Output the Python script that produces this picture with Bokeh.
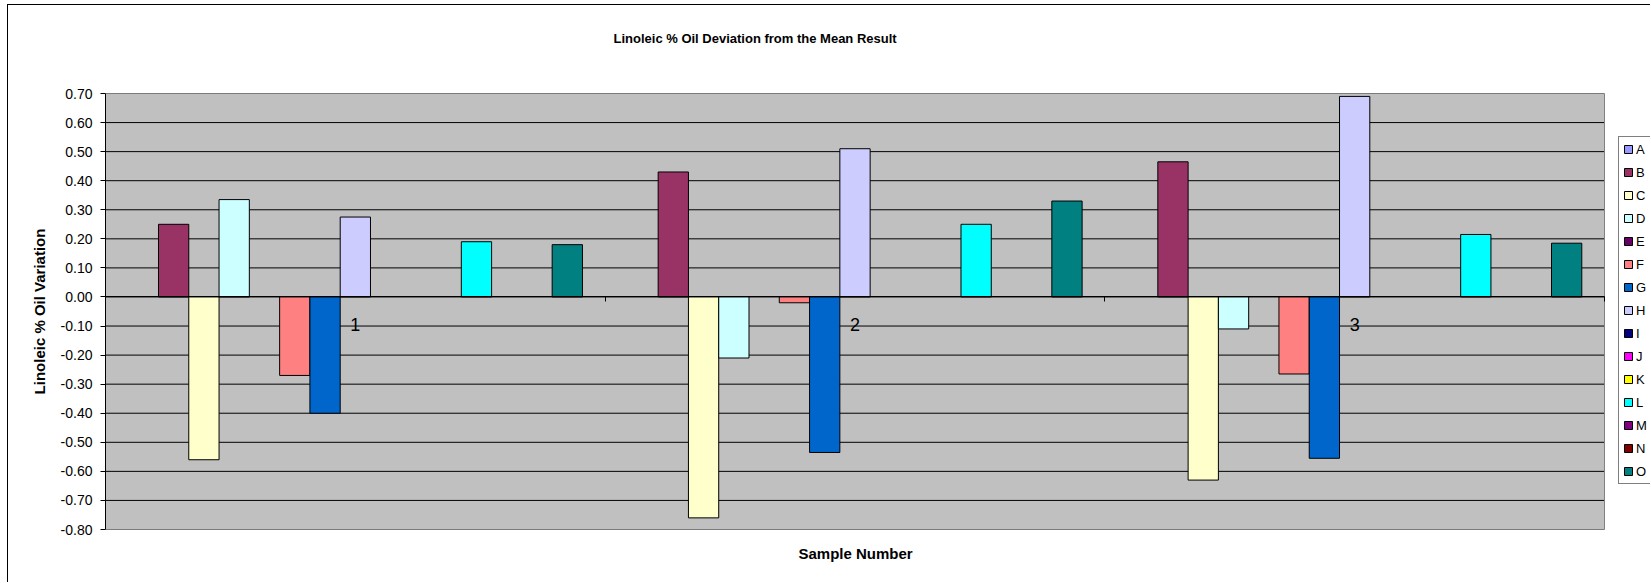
from bokeh.plotting import figure
from bokeh.models import (ColumnDataSource, FixedTicker, LinearAxis, Legend, LegendItem,
                          Range1d, PrintfTickFormatter, Title)
from bokeh.transform import dodge
from bokeh.embed import file_html
from bokeh.resources import INLINE

# ---------------- data ----------------
categories = ["1", "2", "3"]
series_names = ["A", "B", "C", "D", "E", "F", "G", "H", "I", "J", "K", "L", "M", "N", "O"]

A = [None, None, None]
B = [0.25, 0.43, 0.465]
C = [-0.56, -0.76, -0.63]
D = [0.335, -0.21, -0.11]
E = [None, None, None]
F = [-0.27, -0.02, -0.265]
G = [-0.40, -0.535, -0.555]
H = [0.275, 0.51, 0.69]
I = [None, None, None]
J = [None, None, None]
K = [None, None, None]
L = [0.19, 0.25, 0.215]
M = [None, None, None]
N = [None, None, None]
O = [0.18, 0.33, 0.185]

series_values = [A, B, C, D, E, F, G, H, I, J, K, L, M, N, O]

colors = ["#9999FF", "#993366", "#FFFFCC", "#CCFFFF", "#660066", "#FF8080", "#0066CC",
          "#CCCCFF", "#000080", "#FF00FF", "#FFFF00", "#00FFFF", "#800080", "#800000",
          "#008080"]

y_ticks = [-0.8, -0.7, -0.6, -0.5, -0.4, -0.3, -0.2, -0.1, 0.0, 0.1, 0.2, 0.3, 0.4, 0.5, 0.6, 0.7]

title_text = "Linoleic % Oil Deviation from the Mean Result"
x_title = "Sample Number"
y_title = "Linoleic % Oil Variation"

# ---------------- layout constants ----------------
FONT = "Liberation Sans"
PLOT_W = 1499      # width of the grey plot area in px
LEGEND_ROOM = 46   # px right of the plot area kept for the legend
PLOT_H = 436

n_cat = len(categories)
n_ser = len(series_names)
centers = [i + 0.5 for i in range(n_cat)]
boundaries = [float(i) for i in range(n_cat + 1)]
gap = 1.5  # Excel gap width 150%
bar_w = 1.0 / (n_ser + gap)
x_end = n_cat * (PLOT_W + LEGEND_ROOM) / PLOT_W

data = {"x": centers}
for name, vals in zip(series_names, series_values):
    data[name] = [float("nan") if v is None else v for v in vals]
source = ColumnDataSource(data)

p = figure(frame_width=PLOT_W + LEGEND_ROOM, frame_height=PLOT_H,
           x_range=Range1d(0, x_end), y_range=Range1d(y_ticks[0], y_ticks[-1]),
           output_backend="svg", toolbar_location=None,
           min_border_left=97, min_border_right=0, min_border_top=88, min_border_bottom=53,
           background_fill_color="white", border_fill_color="white",
           outline_line_color=None)

p.styles = {"margin-left": "7px", "margin-top": "4px",
            "border-left": "1px solid black", "border-top": "1px solid black"}

xa = p.below[0]
ya = p.left[0]
p.title.text = ""

# grey plot area, grid lines
p.quad(left=[0], right=[n_cat], bottom=[y_ticks[0]], top=[y_ticks[-1]],
       fill_color="#C0C0C0", line_color=None)
p.segment(x0=[0] * len(y_ticks), x1=[n_cat] * len(y_ticks), y0=y_ticks, y1=y_ticks,
          line_color="black", line_width=1)
p.xgrid.visible = False
p.ygrid.visible = False

# bars
renderers = []
for i, (name, col) in enumerate(zip(series_names, colors)):
    off = (i - (n_ser - 1) / 2) * bar_w
    r = p.vbar(x=dodge("x", off), top=name, bottom=0, width=bar_w, source=source,
               fill_color=col, line_color="black", line_width=1)
    renderers.append(r)

# plot-area border
p.quad(left=[0], right=[n_cat], bottom=[y_ticks[0]], top=[y_ticks[-1]],
       fill_color=None, line_color="#808080", line_width=1)

# y axis
yt = FixedTicker(ticks=y_ticks)
ya.ticker = yt
ya.formatter = PrintfTickFormatter(format="%.2f")
ya.major_tick_out = 5
ya.major_tick_in = 0
ya.minor_tick_out = 0
ya.minor_tick_in = 0
ya.axis_line_color = "black"
ya.major_tick_line_color = "black"
ya.major_label_standoff = 8
ya.major_label_text_font = FONT
ya.major_label_text_font_size = "14px"
ya.major_label_text_color = "black"
ya.axis_label = y_title
ya.axis_label_standoff = 10
ya.axis_label_text_font = FONT
ya.axis_label_text_font_size = "15px"
ya.axis_label_text_font_style = "bold"
ya.axis_label_text_color = "black"

# x axis at zero: boundary ticks
xa.fixed_location = 0
xa.bounds = (0, n_cat)
xa.ticker = FixedTicker(ticks=boundaries)
xa.major_tick_out = 5
xa.major_tick_in = 0
xa.minor_tick_out = 0
xa.minor_tick_in = 0
xa.major_label_text_color = None
xa.axis_line_color = "black"
xa.major_tick_line_color = "black"

# category labels near zero line
xl = LinearAxis(fixed_location=0, bounds=(0, n_cat), ticker=FixedTicker(ticks=centers),
                major_label_overrides={c: lab for c, lab in zip(centers, categories)},
                major_tick_out=0, major_tick_in=0, minor_tick_out=0, minor_tick_in=0,
                axis_line_color=None, major_label_standoff=21,
                major_label_text_font=FONT, major_label_text_font_size="18px",
                major_label_text_color="black")
p.add_layout(xl, "below")

# x axis title, centred under the grey plot area
p.add_layout(Title(text=x_title, align="left", offset=693, vertical_align="top",
                   standoff=30, text_font=FONT, text_font_size="15px",
                   text_font_style="bold", text_color="black"), "below")

# a spacer between plot and title (an empty axis above), then the title
top_spacer = LinearAxis(ticker=FixedTicker(ticks=[]), axis_line_color=None,
                        major_tick_out=0, major_tick_in=0, minor_tick_out=0, minor_tick_in=0,
                        major_label_standoff=0, major_label_text_color=None,
                        axis_label=" ", axis_label_standoff=15,
                        axis_label_text_font=FONT, axis_label_text_font_size="13px")
p.add_layout(top_spacer, "above")
p.add_layout(Title(text=title_text, align="left", offset=508, vertical_align="bottom",
                   standoff=30, text_font=FONT, text_font_size="13px",
                   text_font_style="bold", text_color="black"), "above")

# legend, vertically centred beside the plot area
legend_h = 2 * 4 + n_ser * 16 + (n_ser - 1) * 7
legend = Legend(items=[LegendItem(label=nm, renderers=[r]) for nm, r in zip(series_names, renderers)],
                location=(PLOT_W + 14, (PLOT_H - legend_h) / 2), orientation="vertical",
                border_line_color="black", border_line_width=1,
                background_fill_color="white", background_fill_alpha=1,
                glyph_width=10, glyph_height=10, label_height=16, label_width=0,
                spacing=7, padding=4, margin=0, label_standoff=3,
                label_text_font=FONT, label_text_font_size="13px",
                label_text_color="black")
p.add_layout(legend, "center")

open("out.html", "w").write(file_html(p, INLINE))
